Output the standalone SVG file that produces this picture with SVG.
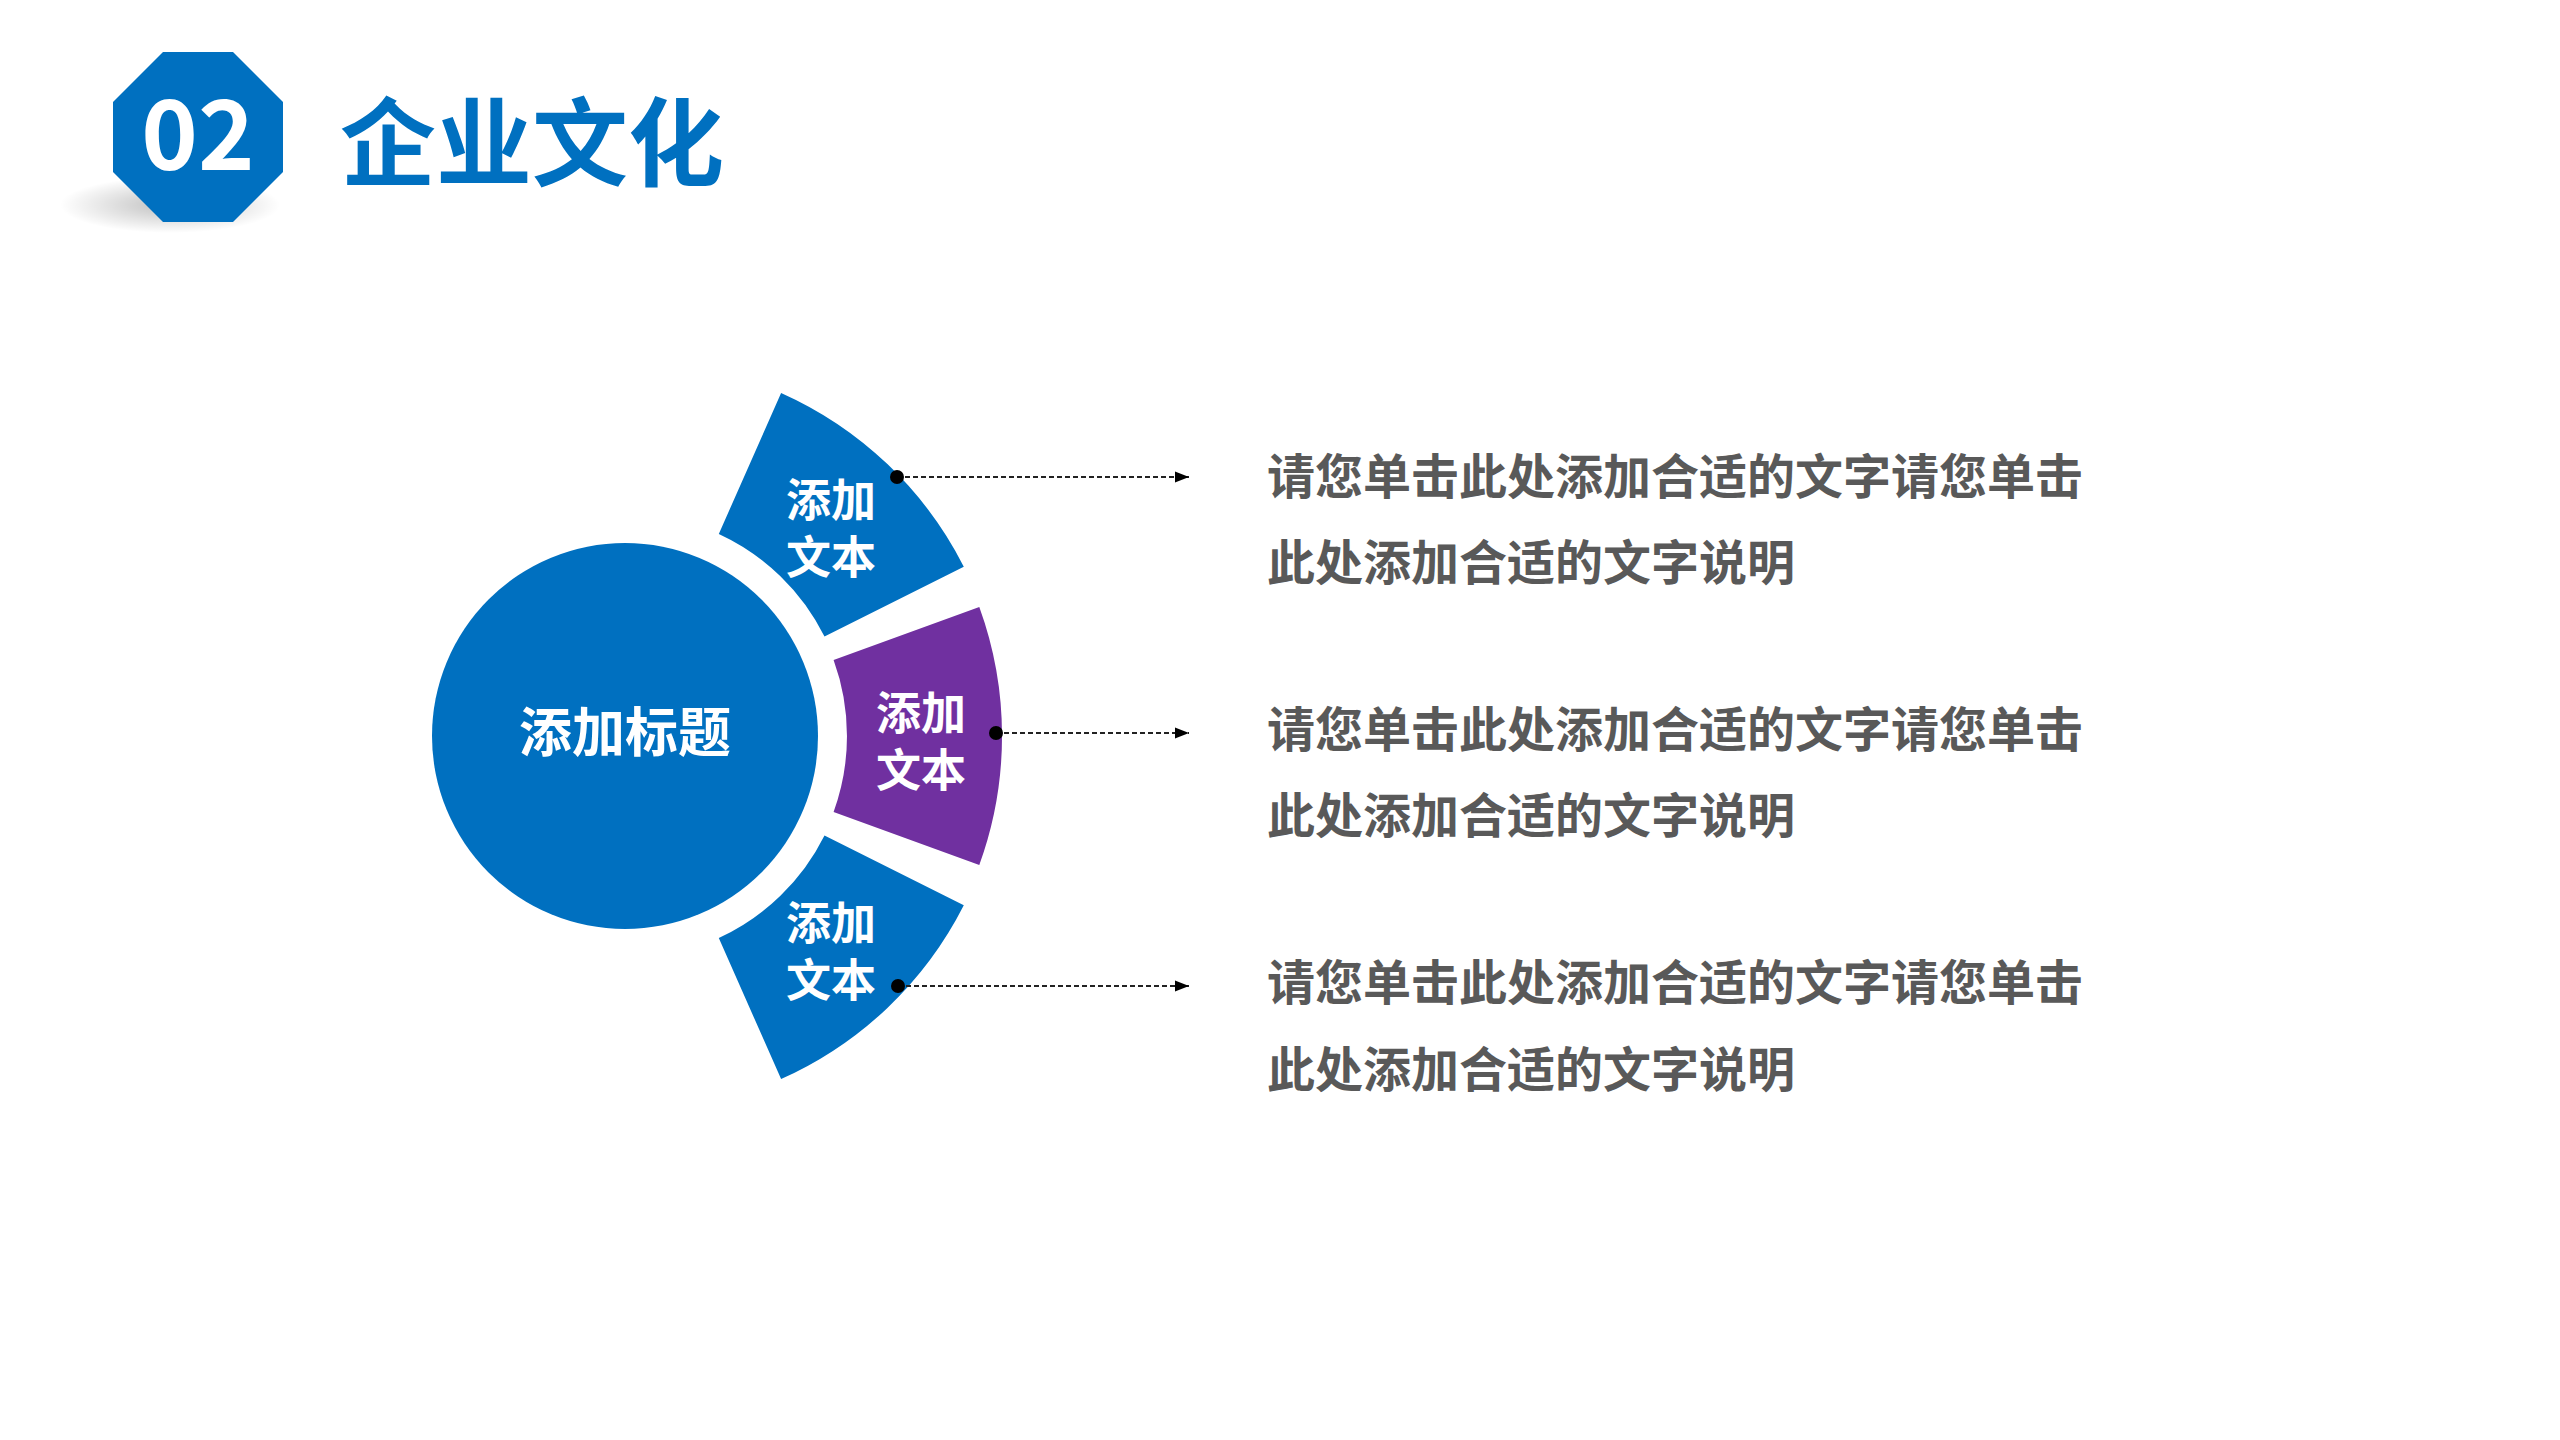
<svg xmlns="http://www.w3.org/2000/svg" width="2560" height="1440" viewBox="0 0 2560 1440">
<defs>
<style>
text{font-family:"Noto Sans CJK SC","Noto Sans",sans-serif;font-weight:bold}
.w{fill:#fff;font-size:45px;text-anchor:middle}
.d{fill:#595959;font-size:48px}
.c{stroke:#222;stroke-width:2;stroke-dasharray:5 3;fill:none}
</style>
<marker id="ah" viewBox="0 0 10 10" refX="10" refY="5" markerWidth="14" markerHeight="14" markerUnits="userSpaceOnUse" orient="auto"><path d="M0,1L10,5L0,9z" fill="#000"/></marker>
<radialGradient id="sh"><stop offset="0" stop-color="#000" stop-opacity="0.25"/><stop offset="1" stop-color="#000" stop-opacity="0"/></radialGradient>
</defs>
<rect width="2560" height="1440" fill="#fff"/>
<g id="header">
<ellipse cx="170" cy="205" rx="110" ry="28" fill="url(#sh)"/>
<polygon points="163,52 233,52 283,102 283,172 233,222 163,222 113,172 113,102" fill="#0070c0"/>
<text x="198" y="170" fill="#fff" font-size="96" text-anchor="middle" font-family="Open Sans,sans-serif">02</text>
<text x="340" y="178" fill="#0070c0" font-size="96">企业文化</text>
</g>
<g id="center">
<circle cx="625" cy="736" r="193" fill="#0070c0"/>
<text class="w" x="625" y="752" style="font-size:53px">添加标题</text>
</g>
<g id="s1">
<path d="M718.8,534.0 L781.1,392.9 A377,377 0 0 1 963.8,566.7 L824.5,636.6 A222,222 0 0 0 718.8,534.0Z" fill="#0070c0"/>
<text class="w" x="831" y="517">添加</text><text class="w" x="831" y="574">文本</text>
</g>
<g id="s2">
<path d="M833.6,660.1 L979.3,607.1 A377,377 0 0 1 979.3,864.9 L833.6,811.9 A222,222 0 0 0 833.6,660.1Z" fill="#7030a0"/>
<text class="w" x="921" y="730">添加</text><text class="w" x="921" y="787">文本</text>
</g>
<g id="s3">
<path d="M824.5,835.4 L963.8,905.3 A377,377 0 0 1 781.1,1079.1 L718.8,938.0 A222,222 0 0 0 824.5,835.4Z" fill="#0070c0"/>
<text class="w" x="831" y="940">添加</text><text class="w" x="831" y="997">文本</text>
</g>
<g id="connectors">
<line class="c" x1="897" y1="477" x2="1189" y2="477" marker-end="url(#ah)"/>
<line class="c" x1="996" y1="733" x2="1189" y2="733" marker-end="url(#ah)"/>
<line class="c" x1="898" y1="986" x2="1189" y2="986" marker-end="url(#ah)"/>
<circle cx="897" cy="477" r="7"/><circle cx="996" cy="733" r="7"/><circle cx="898" cy="986" r="7"/>
</g>
<g id="texts">
<text class="d" x="1267" y="494">请您单击此处添加合适的文字请您单击</text>
<text class="d" x="1267" y="580">此处添加合适的文字说明</text>
<text class="d" x="1267" y="747">请您单击此处添加合适的文字请您单击</text>
<text class="d" x="1267" y="833">此处添加合适的文字说明</text>
<text class="d" x="1267" y="1000">请您单击此处添加合适的文字请您单击</text>
<text class="d" x="1267" y="1087">此处添加合适的文字说明</text>
</g>
</svg>
